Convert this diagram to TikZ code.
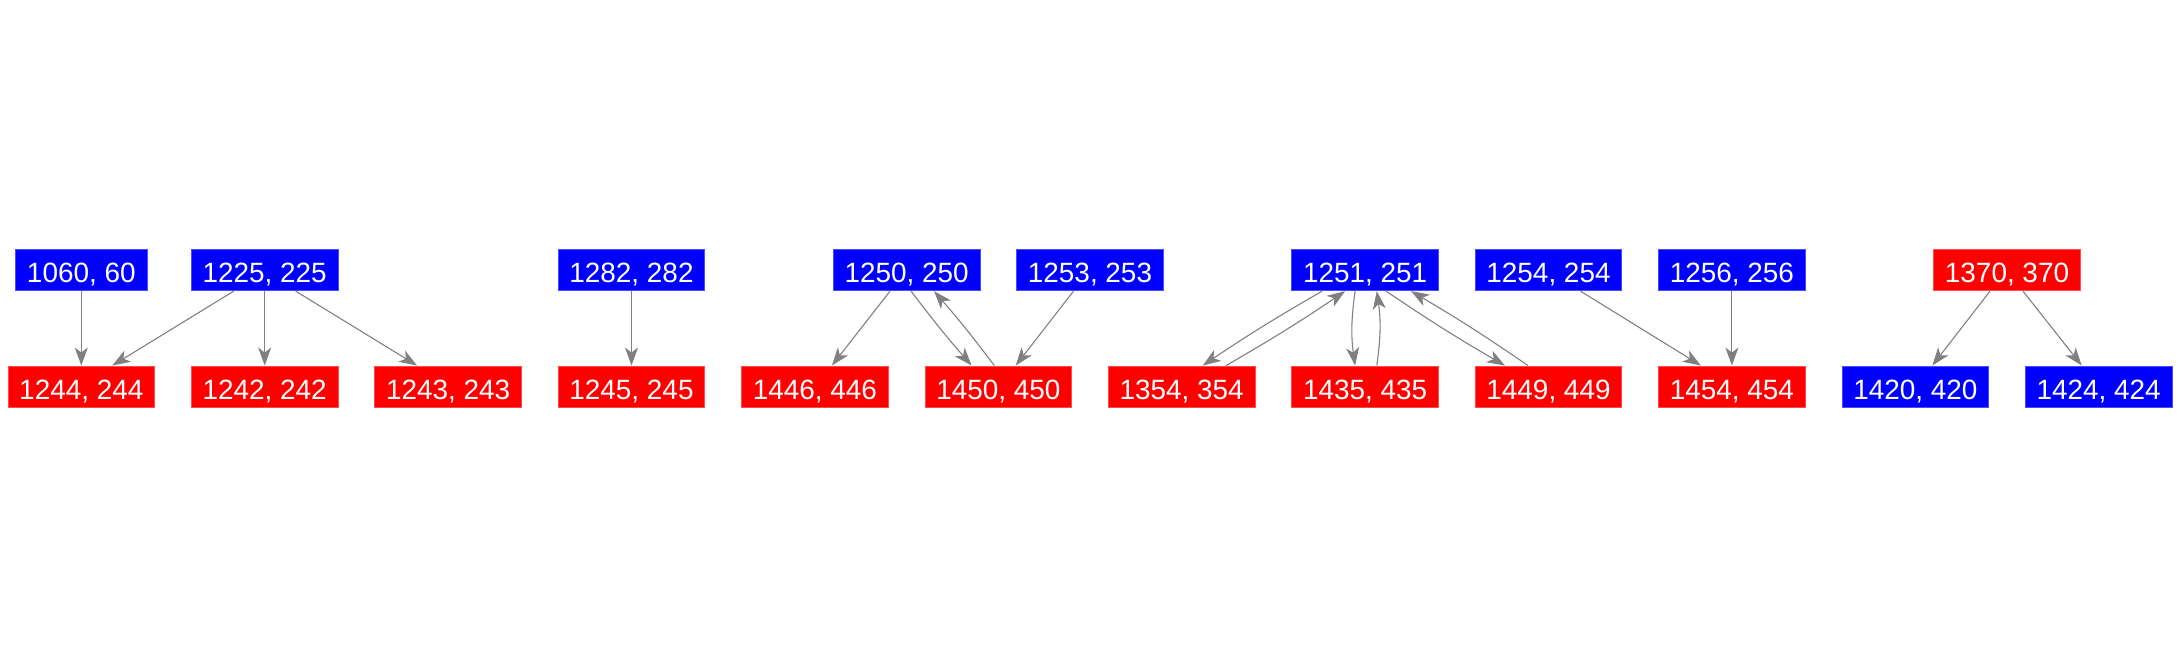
\documentclass[tikz,border=0pt]{standalone}
\usepackage{fontspec}
\setmainfont{Liberation Sans}
\usetikzlibrary{arrows.meta}
\definecolor{bbox}{RGB}{0,0,255}
\definecolor{rbox}{RGB}{255,0,0}
\definecolor{edgegray}{RGB}{128,128,128}
\tikzset{
  vbox/.style={rectangle, font=\fontsize{27.9}{30}\selectfont, text=white,
    inner xsep=11.3pt, inner ysep=0pt, minimum height=41.5pt,
    text height=25.7pt, text depth=0pt, line width=0.8pt},
  bluebox/.style={vbox, fill=bbox, draw=bbox!70!white},
  redbox/.style={vbox, fill=rbox, draw=rbox!70!white},
  edge/.style={draw=edgegray, line width=1.1pt,
    -{Stealth[length=18pt, width=13pt, inset=5pt]}},
}
\begin{document}
\begin{tikzpicture}[x=1pt,y=-1pt]
\useasboundingbox (0,0) rectangle (2179,656);
\def\ty{270}
\def\by{386.7}
% top row
\node[bluebox] (n1060) at ({81.3+183.4*0},\ty) {1060, 60};
\node[bluebox] (n1225) at ({81.3+183.4*1},\ty) {1225, 225};
\node[bluebox] (n1282) at ({81.3+183.4*3},\ty) {1282, 282};
\node[bluebox] (n1250) at ({81.3+183.4*4.5},\ty) {1250, 250};
\node[bluebox] (n1253) at ({81.3+183.4*5.5},\ty) {1253, 253};
\node[bluebox] (n1251) at ({81.3+183.4*7},\ty) {1251, 251};
\node[bluebox] (n1254) at ({81.3+183.4*8},\ty) {1254, 254};
\node[bluebox] (n1256) at ({81.3+183.4*9},\ty) {1256, 256};
\node[redbox]  (n1370) at ({81.3+183.4*10.5},\ty) {1370, 370};
% bottom row
\node[redbox] (n1244) at ({81.3+183.4*0},\by) {1244, 244};
\node[redbox] (n1242) at ({81.3+183.4*1},\by) {1242, 242};
\node[redbox] (n1243) at ({81.3+183.4*2},\by) {1243, 243};
\node[redbox] (n1245) at ({81.3+183.4*3},\by) {1245, 245};
\node[redbox] (n1446) at ({81.3+183.4*4},\by) {1446, 446};
\node[redbox] (n1450) at ({81.3+183.4*5},\by) {1450, 450};
\node[redbox] (n1354) at ({81.3+183.4*6},\by) {1354, 354};
\node[redbox] (n1435) at ({81.3+183.4*7},\by) {1435, 435};
\node[redbox] (n1449) at ({81.3+183.4*8},\by) {1449, 449};
\node[redbox] (n1454) at ({81.3+183.4*9},\by) {1454, 454};
\node[bluebox] (n1420) at ({81.3+183.4*10},\by) {1420, 420};
\node[bluebox] (n1424) at ({81.3+183.4*11},\by) {1424, 424};
% edges
\draw[edge] (n1060.south) -- (n1244.north);
\draw[edge] ([xshift=-31pt]n1225.south) -- ([xshift=31pt]n1244.north);
\draw[edge] (n1225.south) -- (n1242.north);
\draw[edge] ([xshift=31pt]n1225.south) -- ([xshift=-31pt]n1243.north);
\draw[edge] (n1282.south) -- (n1245.north);
\draw[edge] ([xshift=-16.6pt]n1250.south) -- ([xshift=17pt]n1446.north);
\draw[edge] ([xshift=4.5pt]n1250.south) to[bend right=2] ([xshift=-26.7pt]n1450.north);
\draw[edge] ([xshift=-4pt]n1450.north) to[bend right=2] ([xshift=27.5pt]n1250.south);
\draw[edge] ([xshift=-16.5pt]n1253.south) -- ([xshift=17.4pt]n1450.north);
\draw[edge] ([xshift=-43pt]n1251.south) to[bend right=2] ([xshift=21pt]n1354.north);
\draw[edge] ([xshift=44.3pt]n1354.north) to[bend right=2] ([xshift=-20pt]n1251.south);
\draw[edge] ([xshift=-10pt]n1251.south) to[bend right=8] ([xshift=-10pt]n1435.north);
\draw[edge] ([xshift=11.7pt]n1435.north) to[bend right=8] ([xshift=11.7pt]n1251.south);
\draw[edge] ([xshift=21pt]n1251.south) to[bend right=2] ([xshift=-43.5pt]n1449.north);
\draw[edge] ([xshift=-20.5pt]n1449.north) to[bend right=2] ([xshift=46pt]n1251.south);
\draw[edge] ([xshift=32pt]n1254.south) -- ([xshift=-31pt]n1454.north);
\draw[edge] (n1256.south) -- (n1454.north);
\draw[edge] ([xshift=-17pt]n1370.south) -- ([xshift=17pt]n1420.north);
\draw[edge] ([xshift=16pt]n1370.south) -- ([xshift=-17pt]n1424.north);
\end{tikzpicture}
\end{document}
